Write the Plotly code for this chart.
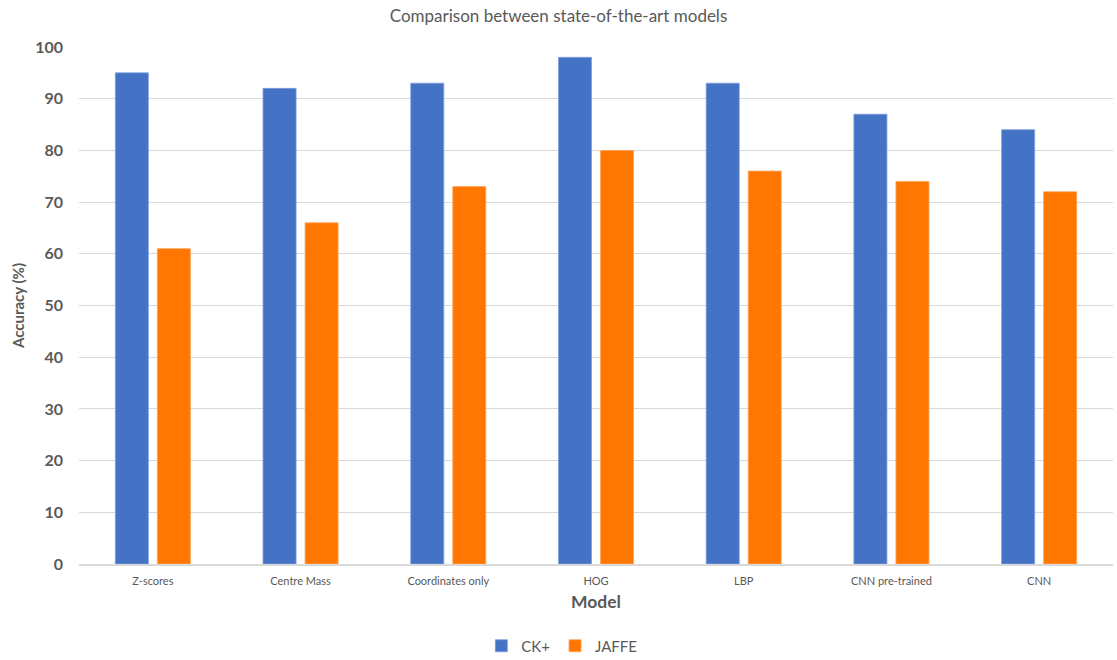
import plotly.graph_objects as go

models = ["Z-scores", "Centre Mass", "Coordinates only", "HOG", "LBP", "CNN pre-trained", "CNN"]
ck_plus = [95, 92, 93, 98, 93, 87, 84]
jaffe = [61, 66, 73, 80, 76, 74, 72]
y_ticks = [0, 10, 20, 30, 40, 50, 60, 70, 80, 90, 100]

FONT = "Lato, 'Open Sans', sans-serif"
GREY = "#595959"

fig = go.Figure()
fig.add_trace(go.Bar(name="CK+", x=models, y=ck_plus,
                     marker=dict(color="#4472C4", line=dict(color="#7F9DE0", width=0.8))))
fig.add_trace(go.Bar(name="JAFFE", x=models, y=jaffe,
                     marker=dict(color="#FF7600", line=dict(color="#FFA45A", width=0.8))))

fig.update_layout(
    width=1117, height=660,
    margin=dict(l=79, r=4, t=47, b=96),
    paper_bgcolor="white", plot_bgcolor="white",
    barmode="group", bargap=0.431, bargroupgap=0.214,
    font=dict(family=FONT, color=GREY),
    title=dict(text="Comparison between state-of-the-art models",
               x=0.5, xref="container", xanchor="center",
               y=1 - 16 / 660, yref="container", yanchor="middle",
               font=dict(size=17, color=GREY)),
    legend=dict(orientation="h", xref="container", x=0.503, xanchor="center",
                yref="container", y=1 - 646 / 660, yanchor="middle",
                font=dict(size=15, color=GREY), itemwidth=30,
                traceorder="normal"),
    showlegend=True,
)

fig.update_xaxes(
    showgrid=False, showline=True, linecolor="#D9D9D9", linewidth=1.5,
    tickfont=dict(size=11, color=GREY), ticks="",
    ticklabelstandoff=6,
    title=dict(text="<b>Model</b>", font=dict(size=17.5, color=GREY), standoff=10),
)
fig.update_yaxes(
    range=[0, 100], tickvals=y_ticks,
    showgrid=True, gridcolor="#D9D9D9", gridwidth=1,
    zeroline=False, showline=False,
    tickfont=dict(size=16, color=GREY, weight="bold"),
    ticklabelstandoff=15,
    title=dict(text="<b>Accuracy (%)</b>", font=dict(size=15, color=GREY), standoff=6),
)

fig.write_html("out.html")
